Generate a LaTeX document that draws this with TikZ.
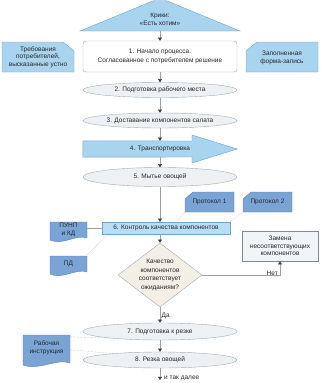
\documentclass[tikz,border=0pt]{standalone}
\usepackage{fontspec}
\setmainfont{Liberation Sans}
\usetikzlibrary{arrows.meta,calc,shapes.geometric}
\definecolor{lb}{HTML}{A9D4F0}
\definecolor{lbx}{HTML}{B9DDF5}
\definecolor{lbd}{HTML}{6FA3CC}
\definecolor{db}{HTML}{7BA4D6}
\definecolor{dbd}{HTML}{5A83B5}
\definecolor{ef}{HTML}{EDF1F4}
\definecolor{ed}{HTML}{A3ABB3}
\definecolor{dfill}{HTML}{F3EFE7}
\definecolor{zf}{HTML}{F1F5F9}
\definecolor{ln}{HTML}{A0A0A0}
\definecolor{tipc}{HTML}{3A3A3A}
\definecolor{txt}{HTML}{262626}
\begin{document}
\begin{tikzpicture}[x=1pt,y=-1pt,
  every node/.style={font=\fontsize{6.5}{7.6}\selectfont, text=txt, inner sep=0, align=center},
  ell/.style={ellipse, draw=ed, fill=ef, line width=0.4pt, minimum width=154, minimum height=15, inner xsep=-20pt, inner ysep=0pt},
  flow/.style={draw=ln, line width=0.45pt, -{Triangle[length=3.2pt,width=3.8pt,color=tipc]}},
  dots/.style={draw=ln, line width=0.4pt, densely dotted},
  card/.style={fill=lb, draw=lbd, line width=0.4pt},
  doc/.style={fill=db, draw=dbd, line width=0.4pt},
  plain/.style={draw=ln, line width=0.45pt}
]
\useasboundingbox (0,0) rectangle (321,383);

% top triangle
\path[card] (80,31) -- (154,0.5) -- (166,0.5) -- (240,31) -- cycle;
\node (tri) at (160,19.5) {Крики:\\«Есть хотим»};
\coordinate (tribase) at (160,31);

% side cards
\path[card] (2,42) -- (63,42) -- (74,51) -- (74,72) -- (2,72) -- cycle;
\node (req) at (38,57) {Требования\\потребителей,\\высказанные устно};
\path[card] (257,42) -- (318,42) -- (318,72) -- (246,72) -- (246,51) -- cycle;
\node (form) at (282,58) {Заполненная\\форма-запись};

% box 1
\node[draw=ed, fill=white, rounded corners=3pt, line width=0.4pt, minimum width=154, minimum height=31, font=\fontsize{6.5}{9.5}\selectfont] (b1) at (160,56.5) {1. Начало процесса.\\Согласованное с потребителем решение};

% ellipses
\node[ell] (e2) at (160,90) {2. Подготовка рабочего места};
\node[ell] (e3) at (160,120.5) {3. Доставание компонентов салата};

% transport arrow
\node[minimum width=154, minimum height=16] (tr) at (160,149) {};
\path[card] (tr.north west) -- (192,141) -- (192,135) -- (tr.east) -- (192,163) -- (192,157) -- (tr.south west) -- cycle;
\node at (tr.center) {4. Транспортировка};

\node[ell, minimum height=19] (e5) at (160,177) {5. Мытье овощей};

% box 6
\node[fill=lbx, draw=lbd, line width=0.4pt, minimum width=128, minimum height=12] (b6) at (166,228) {6. Контроль качества компонентов};

% protocols
\path[doc] (193,192) -- (234,192) -- (234,212) -- (185,212) -- (185,199) -- cycle;
\node[minimum width=49, minimum height=20] (p1) at (209.5,202) {Протокол 1};
\path[doc] (251,192) -- (292,192) -- (292,212) -- (243,212) -- (243,199) -- cycle;
\node[minimum width=49, minimum height=20] (p2) at (267.5,202) {Протокол 2};

% documents left
\path[doc] (50,222) -- (87,222) -- (87,238) .. controls (76,234) and (62,246) .. (50,240) -- cycle;
\node[minimum width=37, minimum height=18] (pu) at (68.5,230) {ПУНП\\и КД};
\path[doc] (50,256) -- (87,256) -- (87,272) .. controls (76,268) and (62,280) .. (50,274) -- cycle;
\node[minimum width=37, minimum height=18] (pd) at (68.5,264) {ПД};

% diamond
\node[diamond, draw=ed, fill=dfill, line width=0.4pt, minimum width=84, minimum height=64, inner xsep=-14pt, inner ysep=-9pt, font=\fontsize{6.5}{8.6}\selectfont] (d) at (160,275) {Качество\\компонентов\\соответствует\\ожиданиям?};

% replacement box
\node[fill=zf, draw=ed!80!black, line width=0.4pt, minimum width=76, minimum height=30] (zm) at (280,246) {Замена\\несоответствующих\\компонентов};

\node[ell, minimum height=17] (e7) at (160,331.5) {7. Подготовка к резке};
\node[ell, minimum height=16] (e8) at (160,360) {8. Резка овощей};

% work instruction
\path[doc] (23,335) -- (70,335) -- (70,363) .. controls (58,358) and (38,371) .. (23,365) -- cycle;
\node[minimum width=47, minimum height=30] (ri) at (46.5,348) {Рабочая\\инструкция};

\coordinate (endp) at (160,380);

% connectors
\draw[flow] (tribase) -- (b1.north);
\draw[flow] (b1.south) -- (e2.north);
\draw[flow] (e2.south) -- (e3.north);
\draw[flow] (e3.south) -- (tr.north);
\draw[flow] (tr.south) -- (e5.north);
\draw[flow] (e5.south) -- (e5.south |- b6.north);
\draw[flow] (b6.south -| d.north) -- (d.north);
\draw[flow] (d.south) -- node[right, xshift=1.5pt, yshift=-1pt] {Да} (e7.north);
\draw[flow] (e7.south) -- (e8.north);
\draw[flow] (e8.south) -- (endp);
\node[anchor=west] (more) at (164,378) {и так далее};
\draw[flow] (d.east) -| (zm.south);
\node[anchor=south east] (net) at (278,276) {Нет};

\draw[plain] (pu.east |- b6.west) -- (b6.west);
\draw[dots] (p1.south west) -- ($(b6.north west)+(75,0)$);
\draw[dots] (p2.south west) -- (b6.north east);
\draw[dots] (pd.north east) -- ($(b6.south west)+(6,0)$);
\draw[dots] ($(ri.north east)+(0,4)$) -- (e7.188);
\draw[dots] ($(ri.north east)+(0,17)$) -- (e8.172);
\end{tikzpicture}
\end{document}
